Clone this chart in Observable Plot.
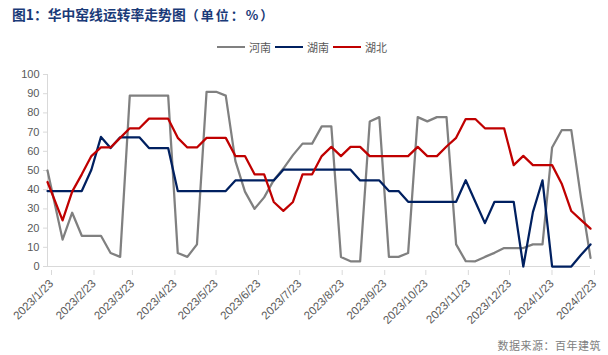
<!DOCTYPE html>
<html><head><meta charset="utf-8">
<script src="https://cdn.jsdelivr.net/npm/d3@7"></script>
<script src="https://cdn.jsdelivr.net/npm/@observablehq/plot@0.6"></script>
<style>
body{margin:0;background:#fff;}
#wrap{position:relative;width:608px;height:355px;overflow:hidden;font-family:"Liberation Sans",Arial,sans-serif;}
#title{position:absolute;left:12px;top:5px;font-family:"Noto Sans CJK SC";font-weight:bold;font-size:13.8px;line-height:18px;color:#1a3a78;white-space:nowrap;}
#title .u{font-size:13px;letter-spacing:2px;}
#legend{position:absolute;left:217px;top:39px;height:16px;display:flex;align-items:center;font-family:"Noto Sans CJK SC";font-size:11px;color:#595959;white-space:nowrap;}
#legend .sw{display:inline-block;width:28px;height:2.5px;margin-right:4px;}
#legend .it{display:flex;align-items:center;margin-right:4px;}
#source{position:absolute;right:7px;top:337px;font-family:"Noto Sans CJK SC";font-size:11px;color:#808080;white-space:nowrap;letter-spacing:0.5px;}
#chart{position:absolute;left:0;top:0;}
</style>
</head><body>
<div id="wrap">
  <div id="chart"></div>
  <div id="title">图1：华中窑线运转率走势图<span class="u">（单位：%）</span></div>
  <div id="legend"></div>
  <div id="source">数据来源：百年建筑</div>
</div>
<script>
const dates = [
  "2023-01-23","2023-02-03","2023-02-10","2023-02-17","2023-02-24","2023-03-03","2023-03-10","2023-03-17",
  "2023-03-24","2023-03-31","2023-04-07","2023-04-14","2023-04-21","2023-04-28","2023-05-05","2023-05-12",
  "2023-05-19","2023-05-26","2023-06-02","2023-06-09","2023-06-16","2023-06-23","2023-06-30","2023-07-07",
  "2023-07-14","2023-07-21","2023-07-28","2023-08-04","2023-08-11","2023-08-18","2023-08-25","2023-09-01",
  "2023-09-08","2023-09-15","2023-09-22","2023-09-29","2023-10-06","2023-10-13","2023-10-20","2023-10-27",
  "2023-11-03","2023-11-10","2023-11-17","2023-11-24","2023-12-01","2023-12-08","2023-12-15","2023-12-22",
  "2023-12-29","2024-01-05","2024-01-12","2024-01-19","2024-01-26","2024-02-02","2024-02-09","2024-02-16",
  "2024-02-23"
];
const henan = [
  50,14,28,16,16,16,7,5,
  89,89,89,89,89,7,5,11.5,
  91,91,89,55,39,30,36,45,
  51,58,64,64,73,73,5,2.7,
  2.7,75.5,77.8,5,5,7,77.8,75.6,
  77.8,77.8,11.5,2.8,2.7,5,7.1,9.6,
  9.6,9.6,11.5,11.5,62,71,71,36,
  4.5
];
const hunan = [
  39.3,39.3,39.3,39.3,50.4,67.5,61.7,67.3,
  67.3,67.3,61.7,61.7,61.7,39.3,39.3,39.3,
  39.3,39.3,39.3,44.8,44.8,44.8,44.8,44.8,
  50.4,50.4,50.4,50.4,50.4,50.4,50.4,50.4,
  44.8,44.8,44.8,39.3,39.3,33.7,33.7,33.7,
  33.7,33.7,33.7,44.9,33.7,22.6,33.7,33.7,
  33.7,0,28.3,44.9,0,0,0,6,
  11.5
];
const hubei = [
  44,24,39,48,57.5,62,62,67,
  72,72,77,77,77,67,62,62,
  67,67,67,57.5,57.5,48,48,33.6,
  29,33.6,48,48,57.5,62.3,57.5,62.3,
  62.3,57.5,57.5,57.5,57.5,57.5,62.3,57.5,
  57.5,62.5,67,76.8,76.8,72,72,72,
  52.8,57.6,52.8,52.8,52.8,43.1,28.9,24.3,
  19.7
];
const seriesNames = ["河南","湖南","湖北"];
const seriesColors = ["#808080","#002060","#c00000"];
const xTickDates = ["2023-01-23","2023-02-23","2023-03-23","2023-04-23","2023-05-23","2023-06-23","2023-07-23",
  "2023-08-23","2023-09-23","2023-10-23","2023-11-23","2023-12-23","2024-01-23","2024-02-23"];
const xTickLabels = ["2023/1/23","2023/2/23","2023/3/23","2023/4/23","2023/5/23","2023/6/23","2023/7/23",
  "2023/8/23","2023/9/23","2023/10/23","2023/11/23","2023/12/23","2024/1/23","2024/2/23"];
const yTicks = [0,10,20,30,40,50,60,70,80,90,100];

const seriesValues = [henan, hunan, hubei];
const rows = [];
seriesNames.forEach((s, j) => {
  dates.forEach((d, i) => rows.push({date: new Date(d), value: seriesValues[j][i], series: s}));
});
const tickDates = xTickDates.map(d => new Date(d));
const labelMap = new Map(tickDates.map((d, i) => [+d, xTickLabels[i]]));

const chart = Plot.plot({
  width: 608, height: 355,
  marginTop: 74, marginBottom: 89, marginLeft: 47, marginRight: 18,
  style: {fontFamily: "Liberation Sans, Arial, sans-serif", fontSize: "11px", background: "transparent", color: "#595959"},
  x: {type: "utc", domain: [tickDates[0], tickDates[tickDates.length - 1]]},
  y: {domain: [0, 100]},
  color: {domain: seriesNames, range: seriesColors},
  marks: [
    Plot.ruleY([0], {stroke: "#d9d9d9", strokeWidth: 1}),
    Plot.ruleX([tickDates[0]], {stroke: "#d9d9d9", strokeWidth: 1}),
    Plot.axisY({ticks: yTicks, tickSize: 4, tickPadding: 4, stroke: "#d9d9d9", fill: "#595959", fontSize: 11, label: null}),
    Plot.axisX({ticks: tickDates, tickFormat: d => labelMap.get(+d), tickRotate: -45, tickSize: 5, tickPadding: 6,
      stroke: "#d9d9d9", fill: "#595959", fontSize: 11.5, label: null, dx: 4, dy: 4, style: {letterSpacing: "0.3px"}}),
    Plot.line(rows, {x: "date", y: "value", z: "series", stroke: "series", strokeWidth: 2.25, strokeLinejoin: "round"})
  ]
});
document.getElementById("chart").appendChild(chart);

const lg = document.getElementById("legend");
seriesNames.forEach((s, i) => {
  const it = document.createElement("span");
  it.className = "it";
  it.innerHTML = `<span class="sw" style="background:${seriesColors[i]}"></span><span>${s}</span>`;
  lg.appendChild(it);
});
</script>
</body></html>
